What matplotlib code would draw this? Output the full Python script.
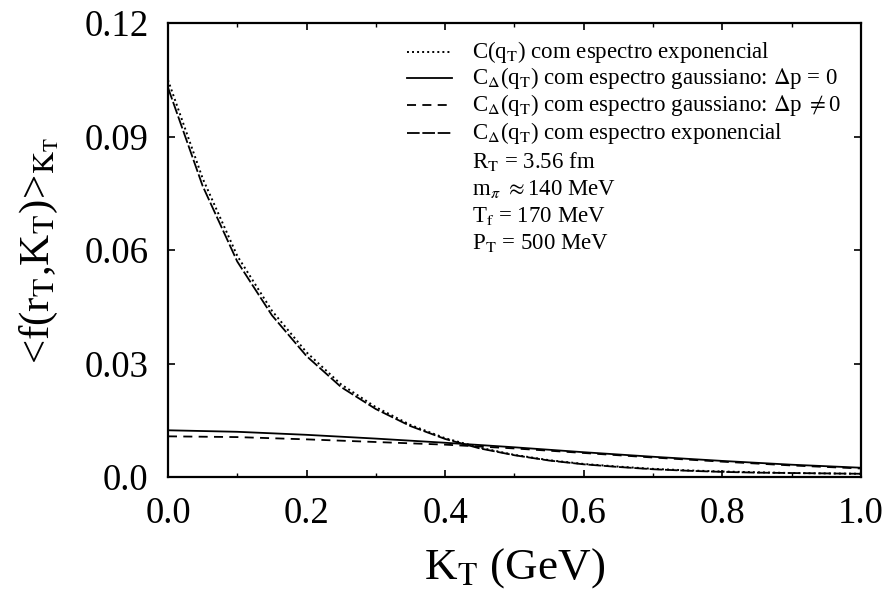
import matplotlib
matplotlib.use("Agg")
import matplotlib.pyplot as plt
from matplotlib.lines import Line2D
from matplotlib.ticker import FixedLocator, FixedFormatter, MultipleLocator

plt.rcParams["font.family"] = ["Liberation Serif", "DejaVu Serif"]
plt.rcParams["mathtext.fontset"] = "stix"

# K_T grid (GeV)
kt = [0.00, 0.05, 0.10, 0.15, 0.20, 0.25, 0.30, 0.35, 0.40, 0.45, 0.50,
      0.55, 0.60, 0.65, 0.70, 0.75, 0.80, 0.85, 0.90, 0.95, 1.00]

# C(q_T), exponential spectrum
c_exp = [0.1050, 0.0790, 0.0585, 0.0440, 0.0330, 0.0245, 0.0185, 0.0138,
         0.0103, 0.0078, 0.0059, 0.0045, 0.0035, 0.0028, 0.0022, 0.0018,
         0.0015, 0.0013, 0.0011, 0.0010, 0.0009]

# C_Delta(q_T), exponential spectrum
cd_exp = [0.1030, 0.0770, 0.0570, 0.0428, 0.0320, 0.0238, 0.0180, 0.0135,
          0.0101, 0.0076, 0.0058, 0.0044, 0.0034, 0.0027, 0.0021, 0.0017,
          0.0014, 0.0012, 0.0011, 0.0010, 0.0009]

# C_Delta(q_T), gaussian spectrum, Delta p = 0
kt_g = [0.0, 0.1, 0.2, 0.3, 0.4, 0.5, 0.6, 0.7, 0.8, 0.9, 1.0]
cd_gauss0 = [0.0124, 0.0120, 0.0112, 0.0102, 0.0091, 0.0079, 0.0066,
             0.0054, 0.0043, 0.0033, 0.0025]

# C_Delta(q_T), gaussian spectrum, Delta p != 0
cd_gauss1 = [0.0108, 0.0106, 0.0100, 0.0093, 0.0086, 0.0076, 0.0064,
             0.0052, 0.0041, 0.0031, 0.0023]

xticks = [0.0, 0.2, 0.4, 0.6, 0.8, 1.0]
xticklabels = ["0.0", "0.2", "0.4", "0.6", "0.8", "1.0"]
yticks = [0.0, 0.03, 0.06, 0.09, 0.12]
yticklabels = ["0.0", "0.03", "0.06", "0.09", "0.12"]

labels = [
    r"C(q$_\mathrm{T}$) com espectro exponencial",
    r"C$_\Delta$(q$_\mathrm{T}$) com espectro gaussiano: $\Delta$p = 0",
    r"C$_\Delta$(q$_\mathrm{T}$) com espectro gaussiano: $\Delta$p $\neq$0",
    r"C$_\Delta$(q$_\mathrm{T}$) com espectro exponencial",
]
params = [
    r"R$_\mathrm{T}$ = 3.56 fm",
    r"m$_\pi$ $\approx$140 MeV",
    r"T$_\mathrm{f}$ = 170 MeV",
    r"P$_\mathrm{T}$ = 500 MeV",
]

styles = [
    dict(lw=1.4, ls=(0, (1, 1.6))),
    dict(lw=1.3, ls="-"),
    dict(lw=1.3, ls=(0, (5, 3.5))),
    dict(lw=1.3, ls=(0, (7, 1.5))),
]

W, H = 884, 595
fig = plt.figure(figsize=(W / 100, H / 100), dpi=100)
ax = fig.add_axes([0.190, 0.198, 0.784, 0.763])

series = [(kt, c_exp), (kt_g, cd_gauss0), (kt_g, cd_gauss1), (kt, cd_exp)]
for (xs, ys), st in zip(series, styles):
    ax.plot(xs, ys, color="black", **st)

ax.set_xlim(0.0, 1.0)
ax.set_ylim(0.0, 0.12)

ax.xaxis.set_major_locator(FixedLocator(xticks))
ax.xaxis.set_major_formatter(FixedFormatter(xticklabels))
ax.xaxis.set_minor_locator(MultipleLocator(0.1))
ax.yaxis.set_major_locator(FixedLocator(yticks))
ax.yaxis.set_major_formatter(FixedFormatter(yticklabels))

ax.tick_params(which="both", direction="in", top=True, right=True,
               labelsize=26.5, pad=14)
ax.tick_params(which="major", length=5, width=1.2)
ax.tick_params(which="minor", length=3, width=1.0)
for sp in ax.spines.values():
    sp.set_linewidth(1.6)

ax.set_xlabel(r"K$_\mathrm{T}$ (GeV)", fontsize=32.5, labelpad=11)
ax.set_ylabel(r"<f(r$_\mathrm{T}$,K$_\mathrm{T}$)>$_{\mathrm{K}_\mathrm{T}}$",
              fontsize=31, labelpad=17)

# key, laid out in figure pixels (origin at top-left)
row_y = [52, 78, 105, 133]
for yy, st, lab in zip(row_y, styles, labels):
    fig.add_artist(Line2D([407, 452], [H - yy, H - yy], transform=None,
                          color="black", **st))
    fig.text(472 / W, 1 - yy / H, lab, fontsize=16.5, va="center", ha="left")

for i, t in enumerate(params):
    fig.text(472 / W, 1 - (162 + i * 27) / H, t, fontsize=16.5,
             va="center", ha="left")

fig.savefig("out.png", dpi=100, facecolor="white")
